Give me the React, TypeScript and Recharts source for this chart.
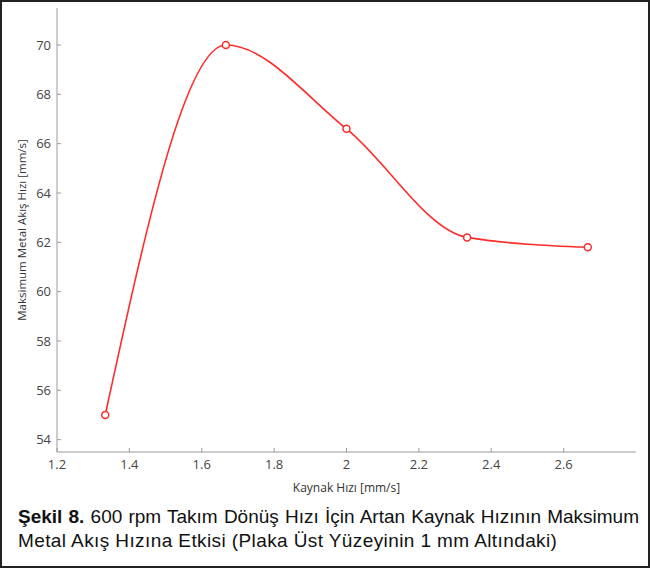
import React from 'react';
import { LineChart, Line, XAxis, YAxis } from 'recharts';

const weldSpeeds = [1.3333, 1.6667, 2.0, 2.3333, 2.6667];
const maxFlowSpeeds = [55.0, 70.0, 66.6, 62.2, 61.8];
const xTicks = [1.2, 1.4, 1.6, 1.8, 2.0, 2.2, 2.4, 2.6];
const yTicks = [54, 56, 58, 60, 62, 64, 66, 68, 70];

const data = weldSpeeds.map((x, i) => ({ x, y: maxFlowSpeeds[i] }));

const font = '"Open Sans", "Noto Sans", sans-serif';
const tickStyle = { fill: '#444', fontSize: 13, fontFamily: font };
const axisStroke = '#9a9a9a';
const noTick = () => <g />;

const captionBase: React.CSSProperties = {
  fontFamily: '"Liberation Sans", Arial, sans-serif',
  fontSize: 19,
  lineHeight: '24px',
  color: '#111',
  whiteSpace: 'nowrap',
};

export default function App() {
  return (
    <div style={{ position: 'absolute', left: 0, top: 0, width: 650, height: 568, boxSizing: 'border-box', border: '2px solid #222', background: '#fff' }}>
      <div style={{ position: 'absolute', left: -2, top: -2 }}>
        <LineChart width={650} height={500} data={data} margin={{ top: 8, right: 14, left: 0, bottom: 0 }}>
          <XAxis
            xAxisId="b"
            type="number"
            dataKey="x"
            domain={[1.2, 2.8]}
            ticks={xTicks}
            tickFormatter={(v: number) => String(Number(v.toFixed(1)))}
            allowDataOverflow
            stroke={axisStroke}
            tick={tickStyle}
            tickSize={-4}
            tickMargin={12}
            height={48}
            label={{ value: 'Kaynak Hızı [mm/s]', position: 'insideBottom', offset: 8, fill: '#333', fontSize: 12, fontFamily: font }}
          />
          <XAxis
            xAxisId="t"
            type="number"
            dataKey="x"
            orientation="top"
            domain={[1.2, 2.8]}
            ticks={xTicks}
            allowDataOverflow
            stroke={axisStroke}
            tick={noTick}
            tickSize={-4}
            height={0}
          />
          <YAxis
            yAxisId="l"
            type="number"
            domain={[53.5, 71.5]}
            ticks={yTicks}
            allowDataOverflow
            stroke={axisStroke}
            tick={tickStyle}
            tickSize={-4}
            tickMargin={10}
            width={57}
            label={{ value: 'Maksimum Metal Akış Hızı [mm/s]', angle: -90, position: 'insideLeft', offset: 22, style: { textAnchor: 'middle' }, fill: '#333', fontSize: 11.5, fontFamily: font }}
          />
          <YAxis
            yAxisId="r"
            type="number"
            orientation="right"
            domain={[53.5, 71.5]}
            ticks={yTicks}
            allowDataOverflow
            stroke={axisStroke}
            tick={noTick}
            tickSize={-4}
            width={0}
          />
          <Line
            xAxisId="b"
            yAxisId="l"
            type="monotone"
            dataKey="y"
            stroke="#ff2a2a"
            strokeWidth={1.6}
            dot={{ r: 3.5, stroke: '#ff2a2a', strokeWidth: 1.5, fill: '#fff' }}
            isAnimationActive={false}
          />
        </LineChart>
      </div>
      <div style={{ position: 'absolute', left: 16, top: 503, width: 621 }}>
        <div style={{ ...captionBase, textAlign: 'justify', textAlignLast: 'justify', whiteSpace: 'normal' }}>
          <b>Şekil 8.</b> 600 rpm Takım Dönüş Hızı İçin Artan Kaynak Hızının Maksimum
        </div>
        <div style={{ ...captionBase, letterSpacing: '0.4px' }}>
          Metal Akış Hızına Etkisi (Plaka Üst Yüzeyinin 1 mm Altındaki)
        </div>
      </div>
    </div>
  );
}
